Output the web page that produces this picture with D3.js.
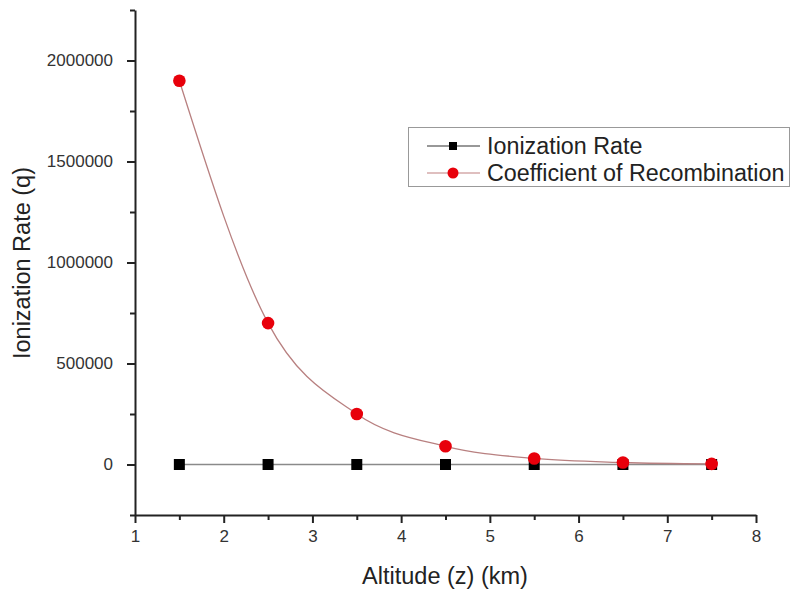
<!DOCTYPE html>
<html><head><meta charset="utf-8">
<script src="https://cdn.jsdelivr.net/npm/d3@7/dist/d3.min.js"></script>
<style>body{margin:0;background:#fff}svg{display:block}text{font-family:Arial,"Liberation Sans",sans-serif}</style>
</head><body><svg id="c" width="792" height="589"></svg>
<script>
const altitude = [1.5, 2.5, 3.5, 4.5, 5.5, 6.5, 7.5];
const ionizationRate = [2, 1.5, 1, 0.8, 0.5, 0.3, 0.2];
const recombination = [1900000, 700000, 250000, 90000, 30000, 10000, 3000];
const xTicks = [1, 2, 3, 4, 5, 6, 7, 8];
const yTicks = [0, 500000, 1000000, 1500000, 2000000];
const seriesNames = ["Ionization Rate", "Coefficient of Recombination"];

const svg = d3.select("#c");
const x = d3.scaleLinear().domain([1, 8]).range([135, 756]);
const y = d3.scaleLinear().domain([-250000, 2250000]).range([515, 10]);

// axes
const xMinor = d3.range(1.5, 8, 1);
const yMinor = [-250000, 250000, 750000, 1250000, 1750000, 2250000];
const gx = svg.append("g").attr("transform", "translate(0,515)");
gx.call(d3.axisBottom(x).tickValues(xTicks).tickFormat(d3.format("d")).tickSize(8).tickSizeOuter(0).tickPadding(7));
gx.append("g").call(d3.axisBottom(x).tickValues(xMinor).tickFormat("").tickSize(5).tickSizeOuter(0)).select(".domain").remove();
const gy = svg.append("g").attr("transform", "translate(135,0)");
gy.call(d3.axisLeft(y).tickValues(yTicks).tickFormat(d3.format("d")).tickSize(8).tickSizeOuter(0).tickPadding(14));
gy.append("g").call(d3.axisLeft(y).tickValues(yMinor).tickFormat("").tickSize(5).tickSizeOuter(0)).select(".domain").remove();
svg.selectAll(".domain").attr("stroke", "#222").attr("stroke-width", 2);
svg.selectAll(".tick line").attr("stroke", "#222").attr("stroke-width", 2);
svg.selectAll(".tick text").attr("font-size", 17).attr("fill", "#333").attr("font-family", "Arial, 'Liberation Sans', sans-serif");

// axis titles
svg.append("text").attr("x", 445).attr("y", 584).attr("text-anchor", "middle").attr("font-size", 23.5).attr("fill", "#222").text("Altitude (z) (km)");
svg.append("text").attr("transform", "translate(30,263) rotate(-90)").attr("text-anchor", "middle").attr("font-size", 23.5).attr("fill", "#222").text("Ionization Rate (q)");

// lines
const blackLine = d3.line().x((d, i) => x(altitude[i])).y(d => y(d));
svg.append("path").datum(ionizationRate).attr("d", blackLine).attr("fill", "none").attr("stroke", "#8a8a8a").attr("stroke-width", 1.3);
const redLine = d3.line().x((d, i) => x(altitude[i])).y(d => y(d)).curve(d3.curveMonotoneX);
svg.append("path").datum(recombination).attr("d", redLine).attr("fill", "none").attr("stroke", "#b88080").attr("stroke-width", 1.3);

// markers
svg.selectAll(".sq").data(ionizationRate).join("rect")
  .attr("x", (d, i) => x(altitude[i]) - 5.5).attr("y", d => y(d) - 5.5)
  .attr("width", 11).attr("height", 11).attr("fill", "#000");
svg.selectAll(".ci").data(recombination).join("circle")
  .attr("cx", (d, i) => x(altitude[i])).attr("cy", d => y(d)).attr("r", 6.3)
  .attr("fill", "#e8000b");

// legend
const lg = svg.append("g");
lg.append("rect").attr("x", 408.5).attr("y", 127.5).attr("width", 381).attr("height", 59)
  .attr("fill", "#fff").attr("stroke", "#999").attr("stroke-width", 1);
const rows = [146, 173];
seriesNames.forEach((n, i) => {
  lg.append("line").attr("x1", 427).attr("x2", 480).attr("y1", rows[i]).attr("y2", rows[i])
    .attr("stroke", i === 0 ? "#333" : "#c08080").attr("stroke-width", 1.2);
  if (i === 0) lg.append("rect").attr("x", 449).attr("y", rows[i] - 4).attr("width", 8).attr("height", 8).attr("fill", "#000");
  else lg.append("circle").attr("cx", 453).attr("cy", rows[i]).attr("r", 5.5).attr("fill", "#e8000b");
  lg.append("text").attr("x", 487).attr("y", rows[i] + 8).attr("font-size", 23.3).attr("fill", "#222").text(n);
});
</script></body></html>
